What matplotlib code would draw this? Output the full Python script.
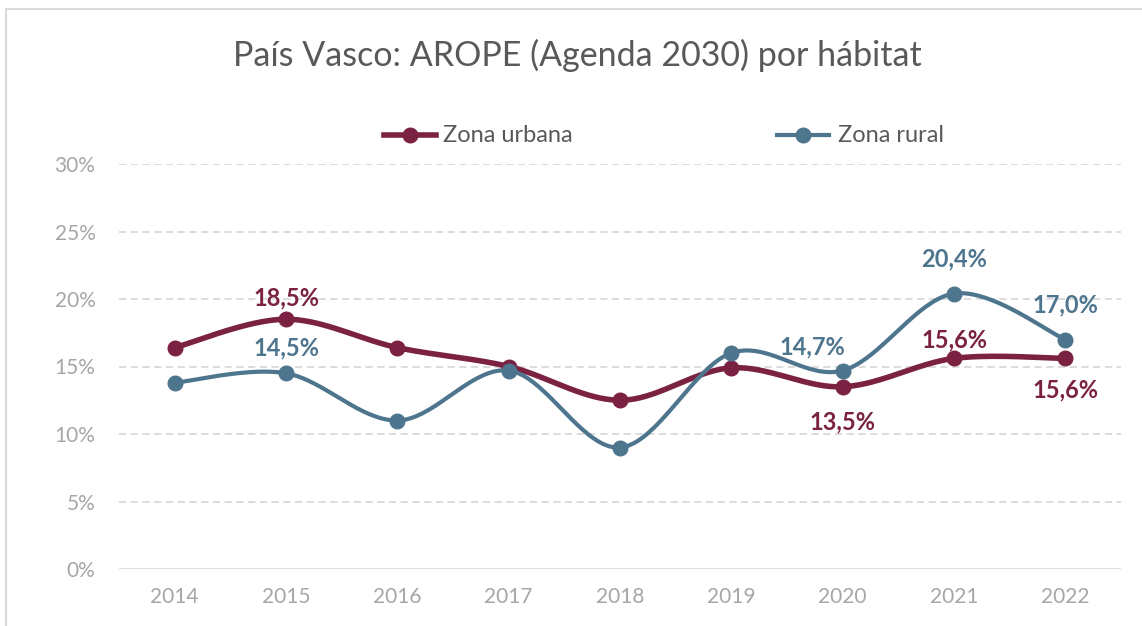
import numpy as np
import matplotlib
matplotlib.use('Agg')
import matplotlib.pyplot as plt
from matplotlib.patches import Rectangle

plt.rcParams['font.family'] = ['Lato', 'DejaVu Sans']

# data
years = ['2014', '2015', '2016', '2017', '2018', '2019', '2020', '2021', '2022']
urbana = [16.4, 18.5, 16.4, 15.0, 12.5, 14.9, 13.5, 15.6, 15.6]
rural = [13.8, 14.5, 11.0, 14.7, 9.0, 16.0, 14.7, 20.4, 17.0]
y_ticks = [0, 5, 10, 15, 20, 25, 30]

# which points carry a label, and where it goes (dx, dy in points)
urb_labels = {1: (0, 15), 6: (0, -25), 7: (0, 13), 8: (0, -23)}
rur_labels = {1: (0, 18), 6: (-22, 17), 7: (0, 25), 8: (0, 25)}

c_urb = '#7b2243'
c_rur = '#4e758e'


def smooth(xs, ys, n=40):
    # bezier through the points, control points from neighbour slopes (like Excel)
    xs = np.asarray(xs, float)
    ys = np.asarray(ys, float)
    px, py = [], []
    m = len(xs)
    for i in range(m - 1):
        x0, y0 = xs[i], ys[i]
        x3, y3 = xs[i + 1], ys[i + 1]
        xp, yp = (xs[i - 1], ys[i - 1]) if i > 0 else (x0, y0)
        xn, yn = (xs[i + 2], ys[i + 2]) if i + 2 < m else (x3, y3)
        x1 = x0 + (x3 - xp) / 6
        y1 = y0 + (y3 - yp) / 6
        x2 = x3 - (xn - x0) / 6
        y2 = y3 - (yn - y0) / 6
        t = np.linspace(0, 1, n)
        px.append((1 - t) ** 3 * x0 + 3 * (1 - t) ** 2 * t * x1 + 3 * (1 - t) * t ** 2 * x2 + t ** 3 * x3)
        py.append((1 - t) ** 3 * y0 + 3 * (1 - t) ** 2 * t * y1 + 3 * (1 - t) * t ** 2 * y2 + t ** 3 * y3)
    return np.concatenate(px), np.concatenate(py)


fig = plt.figure(figsize=(11.42, 6.26), dpi=100)
fig.patches.append(Rectangle((0.005, -0.01), 1.2, 0.995, transform=fig.transFigure,
                             fill=False, edgecolor='#d9d9d9', linewidth=1.5))

ax = fig.add_axes([119 / 1142, 1 - 569 / 626, (1121 - 119) / 1142, (569 - 164) / 626])
x = np.arange(len(years))

for vals, col, lw in [(urbana, c_urb, 4.0), (rural, c_rur, 3.0)]:
    sx, sy = smooth(x, vals)
    ax.plot(sx, sy, color=col, linewidth=lw, solid_capstyle='round', zorder=3)
    ax.plot(x, vals, 'o', color=col, markersize=10.5, zorder=4)

for vals, col, labels in [(urbana, c_urb, urb_labels), (rural, c_rur, rur_labels)]:
    for i, (dx, dy) in labels.items():
        ax.annotate(f'{vals[i]:.1f}%'.replace('.', ','), (x[i], vals[i]),
                    xytext=(dx, dy), textcoords='offset points',
                    ha='center', va='center', color=col, fontsize=17,
                    fontweight='bold', zorder=5)

ax.set_xlim(-0.5, len(years) - 0.5)
ax.set_ylim(0, 30)
ax.set_yticks(y_ticks)
ax.set_yticklabels([f'{v}%' for v in y_ticks])
ax.set_xticks(x)
ax.set_xticklabels(years)
ax.tick_params(length=0, colors='#a6a6a6', labelsize=15)
ax.tick_params(axis='x', pad=13)
ax.tick_params(axis='y', pad=17)
for s in ax.spines.values():
    s.set_visible(False)
for v in y_ticks[1:]:
    ax.axhline(v, color='#d9d9d9', linewidth=1.3, linestyle=(0, (4, 2.5)), zorder=1)
ax.axhline(0, color='#d9d9d9', linewidth=2, zorder=2)

fig.text(577 / 1142, 1 - 55 / 626, 'País Vasco: AROPE (Agenda 2030) por hábitat',
         ha='center', va='center', fontsize=24.5, color='#595959')

# legend drawn by hand to match the spacing
for lx, tx, col, lw, name in [(410, 443, c_urb, 4.0, 'Zona urbana'), (803, 838, c_rur, 3.0, 'Zona rural')]:
    fig.lines.append(plt.Line2D([(lx - 26) / 1142, (lx + 26) / 1142], [1 - 135 / 626] * 2,
                                transform=fig.transFigure, color=col, linewidth=lw))
    fig.lines.append(plt.Line2D([lx / 1142], [1 - 135 / 626], transform=fig.transFigure,
                                color=col, marker='o', markersize=10.5))
    fig.text(tx / 1142, 1 - 135 / 626, name, ha='left', va='center', fontsize=17, color='#595959')

fig.savefig('out.png', dpi=100)
